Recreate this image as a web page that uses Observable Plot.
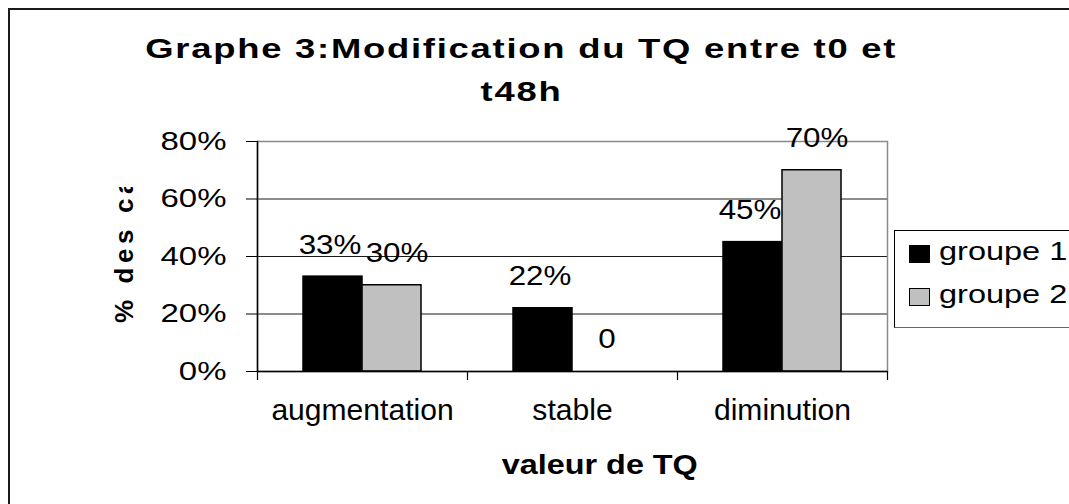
<!DOCTYPE html>
<html>
<head>
<meta charset="utf-8">
<script src="https://cdn.jsdelivr.net/npm/d3@7"></script>
<script src="https://cdn.jsdelivr.net/npm/@observablehq/plot@0.6"></script>
<style>
html, body { margin: 0; padding: 0; background: #fff; }
#wrap { position: relative; width: 1069px; height: 504px; overflow: hidden; background: #fff;
  font-family: "Liberation Sans", Arial, sans-serif; color: #000; }
#border { position: absolute; left: 8px; top: 8px; width: 1200px; height: 700px;
  border-left: 2px solid #1a1a1a; border-top: 2px solid #1a1a1a; }
#chart { position: absolute; left: 0; top: 0; }
.t { position: absolute; white-space: nowrap; }
.t span { display: inline-block; }
.title { font-weight: bold; font-size: 28px; line-height: 28px; text-align: center; left: 0; width: 1042px; }
.title span { transform: scaleX(1.3); transform-origin: center; letter-spacing: 1.35px; }
#ytitle { left: 108px; top: 187px; width: 32px; height: 136px; overflow: hidden; }
#ytitle div { position: absolute; left: 0; bottom: 0; width: 32px; height: 136px; writing-mode: vertical-rl;
  transform: rotate(180deg); white-space: nowrap; font-weight: bold; font-size: 26px; line-height: 32px; letter-spacing: 4.6px; }
#xtitle { left: 0; width: 1200px; text-align: center; top: 451px; font-weight: bold; font-size: 28px; line-height: 28px; }
#xtitle span { transform: scaleX(1.155); transform-origin: center; }
#legend { position: absolute; left: 894px; top: 230px; width: 220px; height: 96px; border: 1px solid #000; border-bottom-color: #666; }
.sw { position: absolute; box-sizing: border-box; width: 21px; height: 18px; }
.lg { font-size: 25px; line-height: 25px; left: 939px; }
.lg span { transform: scaleX(1.3); transform-origin: left center; }
</style>
</head>
<body>
<div id="wrap">
  <div id="border"></div>
  <div id="chart"></div>
  <div class="t title" style="top:35px"><span id="title1"></span></div>
  <div class="t title" style="top:78px"><span id="title2"></span></div>
  <div class="t" id="ytitle"><div id="ytitleText"></div></div>
  <div class="t" id="xtitle"><span id="xtitleText"></span></div>
  <div id="legend"></div>
</div>
<script>
// ---- data ----
const titleLines = ["Graphe 3:Modification du TQ entre t0 et", "t48h"];
const yTitle = "% des cas";
const xTitle = "valeur de TQ";
const categories = ["augmentation", "stable", "diminution"];
const groups = ["groupe 1", "groupe 2"];
const groupColors = ["#000000", "#c0c0c0"];
const group1Values = [0.33, 0.22, 0.45];
const group2Values = [0.30, 0.00, 0.70];
const group1Labels = ["33%", "22%", "45%"];
const group2Labels = ["30%", "0", "70%"];
const yTicks = [0, 0.2, 0.4, 0.6, 0.8];
const yTickLabels = ["0%", "20%", "40%", "60%", "80%"];

const data = categories.flatMap((c, i) => [
  {category: c, group: groups[0], value: group1Values[i], label: group1Labels[i]},
  {category: c, group: groups[1], value: group2Values[i], label: group2Labels[i]}
]);

const W = 1069, H = 504, mt = 141, mr = 182, mb = 133, ml = 256;
const plotH = H - mt - mb;

const labelOpts = {fx: "category", x: "group", y: "value", text: "label", dy: -32, fontSize: 28, fill: "#000", className: "dlab"};

const chart = Plot.plot({
  width: W, height: H,
  marginTop: mt, marginRight: mr, marginBottom: mb, marginLeft: ml,
  style: {fontFamily: "Liberation Sans, Arial, sans-serif", background: "transparent", color: "#000", overflow: "visible"},
  fx: {domain: categories, padding: 0, axis: null, label: null},
  x: {domain: groups, paddingInner: 0, paddingOuter: 0.77, axis: null, label: null},
  y: {domain: [0, 0.8], axis: null, label: null},
  color: {domain: groups, range: groupColors},
  marks: [
    Plot.gridY({ticks: yTicks, stroke: "#1a1a1a", strokeOpacity: 1}),
    Plot.frame({facet: "super", stroke: "#8a8a8a", strokeWidth: 1.5}),
    Plot.barY(data, {fx: "category", x: "group", y: "value", fill: "group", stroke: "#000", strokeWidth: 1.5}),
    Plot.ruleY([0], {stroke: "#000", strokeWidth: 1.5}),
    Plot.frame({facet: "super", anchor: "left", stroke: "#000", strokeWidth: 1.5}),
    Plot.frame({anchor: "left", insetTop: plotH, insetBottom: -8, stroke: "#000", strokeWidth: 1.2}),
    Plot.frame({facet: "super", anchor: "right", insetTop: plotH, insetBottom: -8, stroke: "#000", strokeWidth: 1.2}),
    Plot.axisY({ticks: yTicks, tickFormat: d => yTickLabels[yTicks.indexOf(d)], tickSize: 11, tickPadding: 20,
      fontSize: 25, stroke: "#000", label: null, className: "ylab"}),
    Plot.axisFx({anchor: "bottom", tickSize: 0, tickPadding: 28, fontSize: 29.5, label: null, className: "xlab"}),
    Plot.text(data.filter(d => d.group === groups[0]), {...labelOpts, dx: -3}),
    Plot.text(data.filter(d => d.group === groups[1]), {...labelOpts, dx: 5})
  ]
});

document.getElementById("chart").appendChild(chart);

// horizontal stretch of the reference's text (vertical anchoring untouched)
function stretch(root, sel, s) {
  root.querySelectorAll(sel).forEach(t => {
    let tr = t.getAttribute("transform") || "";
    const x = t.getAttribute("x");
    if (x != null && /^-?[\d.]+$/.test(x)) {
      tr += ` translate(${+x},0)`;
      t.removeAttribute("x");
    }
    t.setAttribute("transform", tr + ` scale(${s},1)`);
  });
}
stretch(chart, ".ylab text", 1.32);
stretch(chart, ".dlab text", 1.12);
stretch(chart, ".xlab text", 1.02);

document.getElementById("title1").textContent = titleLines[0];
document.getElementById("title2").textContent = titleLines[1];
document.getElementById("ytitleText").textContent = yTitle;
document.getElementById("xtitleText").textContent = xTitle;

// legend
const wrap = document.getElementById("wrap");
groups.forEach((g, i) => {
  const sw = document.createElement("div");
  sw.className = "sw";
  sw.style.left = "909px";
  sw.style.top = (245 + i * 43) + "px";
  sw.style.background = groupColors[i];
  sw.style.border = "1.5px solid #000";
  wrap.appendChild(sw);
  const lab = document.createElement("div");
  lab.className = "t lg";
  lab.style.top = (239 + i * 43) + "px";
  const sp = document.createElement("span");
  sp.textContent = g;
  lab.appendChild(sp);
  wrap.appendChild(lab);
});
</script>
</body>
</html>
